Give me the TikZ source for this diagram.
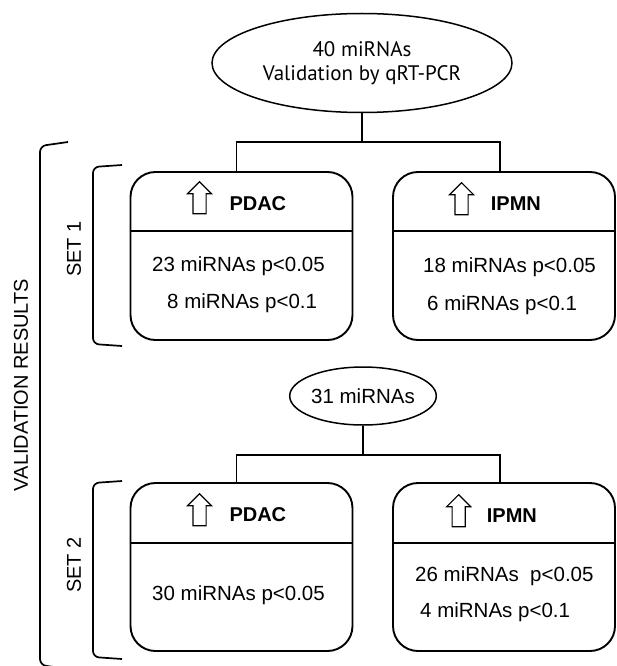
\documentclass[tikz,border=0pt]{standalone}
\usepackage{fontspec}
\setmainfont{Liberation Sans}
\newfontfamily\ovalfont{PT Sans}
\usetikzlibrary{shapes.geometric, shapes.arrows}

\begin{document}
\begin{tikzpicture}[x=1pt, y=-1pt,
    res/.style={draw, line width=1.9pt, rounded corners=25pt, minimum width=222pt, minimum height=168pt, inner sep=0pt},
    oval/.style={draw, ellipse, line width=1.5pt, inner sep=0pt},
    uparrow/.style={draw, single arrow, shape border rotate=90, line width=1.1pt, inner sep=6pt, single arrow head extend=5.5pt, minimum height=32pt},
    hdr/.style={anchor=base west, inner sep=0pt, font=\fontsize{20}{24}\selectfont\bfseries},
    txt/.style={anchor=base west, inner sep=0pt, font=\fontsize{20.5}{24}\selectfont},
    lbl/.style={rotate=90, inner sep=0pt, font=\fontsize{20}{24}\selectfont},
    link/.style={line width=1.5pt},
    brace/.style={line width=1.7pt, rounded corners=6pt}]
      \useasboundingbox (0,0) rectangle (616,666);

      \node[oval, minimum width=300pt, minimum height=99pt, align=center,
        font=\ovalfont\fontsize{21}{24}\selectfont] (mir40) at (362,63) {40 miRNAs\\Validation by qRT-PCR};
      \coordinate (fork1) at (362,142);

      % set 1
      \node[res] (pdac1) at (241.5,256) {};
      \node[res] (ipmn1) at (504,256) {};
      \draw[link] (pdac1.west |- 0,231) -- (pdac1.east |- 0,231);
      \draw[link] (ipmn1.west |- 0,231) -- (ipmn1.east |- 0,231);
      \draw[link] (mir40.south) -- (fork1);
      \draw[link] ([xshift=-5pt]pdac1.north) |- (fork1) -| ([xshift=-4pt]ipmn1.north);

      \node[uparrow] (upP1) at (199.5,201) {};
      \node[hdr] (hP1) at (229.3,210.7) {PDAC};
      \node[txt] (p1a) at (152,271.7) {23 miRNAs p<0.05};
      \node[txt] (p1b) at (167,308) {8 miRNAs p<0.1};

      \node[uparrow] (upI1) at (461.5,202) {};
      \node[hdr] (hI1) at (490.7,210) {IPMN};
      \node[txt] (i1a) at (423,272.7) {18 miRNAs p<0.05};
      \node[txt] (i1b) at (427,310) {6 miRNAs p<0.1};

      % set 2
      \node[oval, minimum width=140pt, minimum height=58pt,
        font=\fontsize{20.5}{24}\selectfont] (mir31) at (363,396) {31 miRNAs};
      \coordinate (fork2) at (363,455);

      \node[res] (pdac2) at (241.5,567) {};
      \node[res] (ipmn2) at (504,567) {};
      \draw[link] (pdac2.west |- 0,543) -- (pdac2.east |- 0,543);
      \draw[link] (ipmn2.west |- 0,543) -- (ipmn2.east |- 0,543);
      \draw[link] (mir31.south) -- (fork2);
      \draw[link] ([xshift=-5pt]pdac2.north) |- (fork2) -| ([xshift=-4pt]ipmn2.north);

      \node[uparrow] (upP2) at (199.5,513) {};
      \node[hdr] (hP2) at (229.3,521.7) {PDAC};
      \node[txt] (p2a) at (152,600) {30 miRNAs p<0.05};

      \node[uparrow] (upI2) at (458.7,514) {};
      \node[hdr] (hI2) at (486.7,522.7) {IPMN};
      \node[txt] (i2a) at (415,581.7) {26 miRNAs\ \ p<0.05};
      \node[txt] (i2b) at (420,617) {4 miRNAs p<0.1};

      % brackets
      \draw[brace] (68,142) -- (40,146) -- (40,665) -- (68,669);
      \draw[brace] (122,165) -- (93,167) -- (93,344) -- (122,346);
      \draw[brace] (122,481) -- (93,483) -- (93,657) -- (122,659);

      \node[lbl] (set1) at (74,249) {SET 1};
      \node[lbl] (set2) at (74,565) {SET 2};
      \node[lbl] (valres) at (21,385) {VALIDATION RESULTS};
\end{tikzpicture}
\end{document}
